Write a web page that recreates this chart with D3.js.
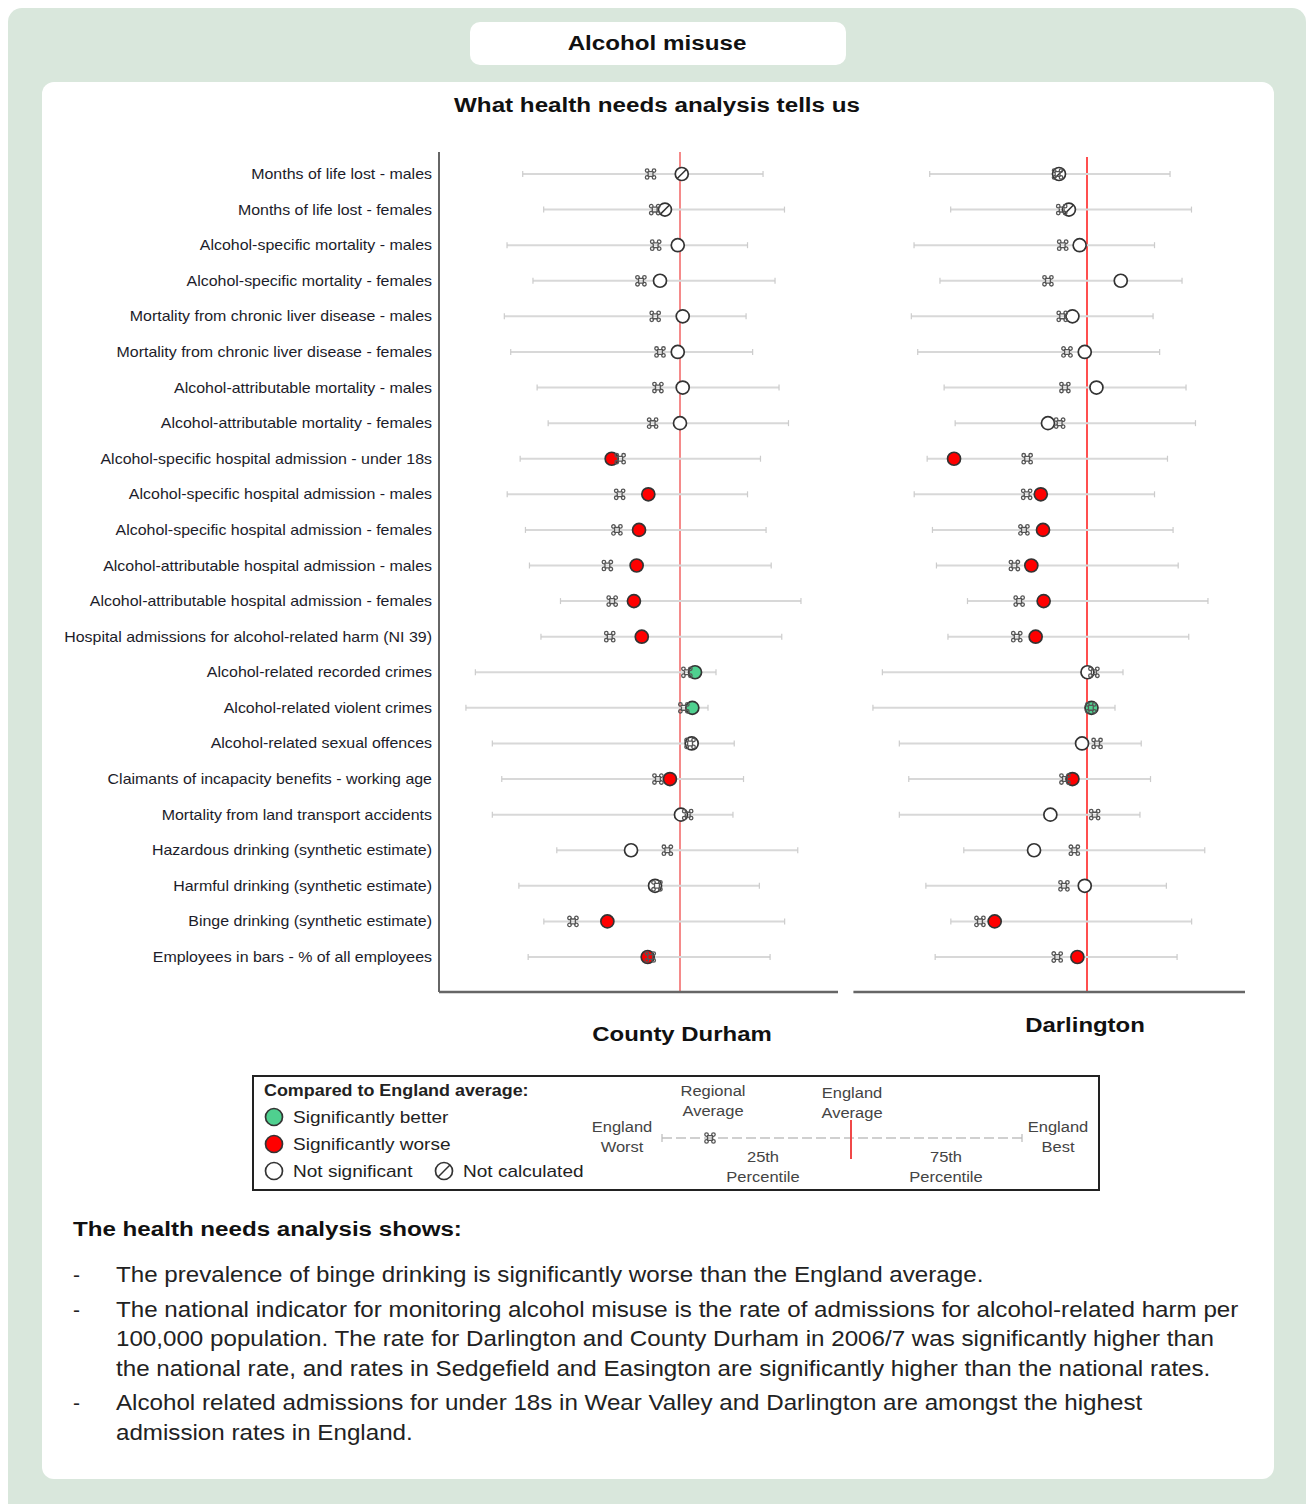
<!DOCTYPE html>
<html>
<head>
<meta charset="utf-8">
<script src="https://cdn.jsdelivr.net/npm/d3@7"></script>
<style>
  html, body { margin: 0; padding: 0; background: #ffffff; }
  svg { display: block; }
</style>
</head>
<body>
<svg id="chart" width="1314" height="1504"></svg>
<script>
// Indicators, top to bottom
const indicators = [
  "Months of life lost - males",
  "Months of life lost - females",
  "Alcohol-specific mortality - males",
  "Alcohol-specific mortality - females",
  "Mortality from chronic liver disease - males",
  "Mortality from chronic liver disease - females",
  "Alcohol-attributable mortality - males",
  "Alcohol-attributable mortality - females",
  "Alcohol-specific hospital admission - under 18s",
  "Alcohol-specific hospital admission - males",
  "Alcohol-specific hospital admission - females",
  "Alcohol-attributable hospital admission - males",
  "Alcohol-attributable hospital admission - females",
  "Hospital admissions for alcohol-related harm (NI 39)",
  "Alcohol-related recorded crimes",
  "Alcohol-related violent crimes",
  "Alcohol-related sexual offences",
  "Claimants of incapacity benefits - working age",
  "Mortality from land transport accidents",
  "Hazardous drinking (synthetic estimate)",
  "Harmful drinking (synthetic estimate)",
  "Binge drinking (synthetic estimate)",
  "Employees in bars - % of all employees"
];

// Standardised scores: England average = 0, worse to the left, better to the right
const englandWorst = [-98.3, -85.2, -108.1, -91.9, -109.8, -105.8, -89.3, -82.4, -99.9, -108.0, -96.6, -94.1,
  -74.7, -86.9, -127.9, -133.8, -117.3, -111.4, -117.3, -77.0, -100.7, -85.1, -94.9];
const englandBest = [51.9, 65.3, 42.2, 59.4, 41.3, 45.4, 61.9, 67.8, 50.3, 42.2, 53.8, 57.0,
  75.6, 63.6, 22.5, 17.5, 33.9, 39.7, 33.1, 73.6, 49.6, 65.4, 56.3];
const regionalAverage = [-18.4, -15.8, -15.2, -24.4, -15.5, -12.5, -13.8, -17.1, -37.4, -37.7, -39.4, -45.4,
  -42.4, -43.9, 4.3, 2.4, 6.3, -13.8, 4.8, -7.9, -14.4, -66.9, -18.6];

const countyDurhamValues = [1.1, -9.4, -1.4, -12.5, 1.7, -1.4, 1.7, 0.0, -42.7, -19.8, -25.6, -27.1,
  -28.8, -23.9, 9.4, 7.7, 7.3, -6.3, 0.6, -30.6, -15.6, -45.4, -20.2];
// b = significantly better, w = significantly worse, n = not significant, x = not calculated
const countyDurhamSig = ["x", "x", "n", "n", "n", "n", "n", "n", "w", "w", "w", "w",
  "w", "w", "b", "b", "n", "w", "n", "n", "n", "w", "w"];

const darlingtonValues = [-17.5, -11.3, -4.6, 21.1, -9.1, -1.4, 5.9, -24.4, -83.1, -28.9, -27.5, -34.8,
  -27.1, -32.1, 0.3, 2.8, -3.1, -9.1, -22.9, -33.1, -1.4, -57.7, -6.0];
const darlingtonSig = ["x", "x", "n", "n", "n", "n", "n", "n", "w", "w", "w", "w",
  "w", "w", "n", "b", "n", "w", "n", "n", "n", "w", "w"];

const areaNames = ["County Durham", "Darlington"];

const legendMarkers = ["Significantly better", "Significantly worse", "Not significant", "Not calculated"];

const summaryPoints = [
  ["The prevalence of binge drinking is significantly worse than the England average."],
  ["The national indicator for monitoring alcohol misuse is the rate of admissions for alcohol-related harm per",
   "100,000 population. The rate for Darlington and County Durham in 2006/7 was significantly higher than",
   "the national rate, and rates in Sedgefield and Easington are significantly higher than the national rates."],
  ["Alcohol related admissions for under 18s in Wear Valley and Darlington are amongst the highest",
   "admission rates in England."]
];

const FONT = "'Liberation Sans', Arial, sans-serif";
const fillFor = { b: "#4fd08f", w: "#ff0000", n: "#ffffff", x: "#ffffff" };

const svg = d3.select("#chart");

// Text with a slightly widened face (horizontal stretch sx)
function wideText(parent, x, y, str, o) {
  return parent.append("text")
    .attr("transform", `translate(${x},${y}) scale(${o.sx || 1},1)`)
    .attr("text-anchor", o.anchor || "start")
    .attr("font-family", FONT)
    .attr("font-weight", o.weight || "normal")
    .attr("font-size", o.size)
    .attr("fill", o.fill || "#222")
    .text(str);
}

// Page frame
svg.append("rect").attr("x", 8).attr("y", 8).attr("width", 1298).attr("height", 1510)
  .attr("rx", 14).attr("fill", "#d9e7dc");
svg.append("rect").attr("x", 470).attr("y", 22).attr("width", 376).attr("height", 43)
  .attr("rx", 10).attr("fill", "#ffffff");
wideText(svg, 657, 50, "Alcohol misuse", { anchor: "middle", weight: "bold", size: 20, sx: 1.21, fill: "#111" });
svg.append("rect").attr("x", 42).attr("y", 82).attr("width", 1232).attr("height", 1397)
  .attr("rx", 12).attr("fill", "#ffffff");
wideText(svg, 657, 112, "What health needs analysis tells us", { anchor: "middle", weight: "bold", size: 20, sx: 1.21, fill: "#111" });

// Rows
const y = d3.scalePoint().domain(indicators).range([174, 957]);
const plotTop = 152, plotBottom = 992;

const labelG = svg.append("g");
indicators.forEach(d => wideText(labelG, 432, y(d) + 5, d, { anchor: "end", size: 14, sx: 1.14, fill: "#1c1c2a" }));

// Regional-average glyph (looped square)
function regionalGlyph(g, cx, cy, s) {
  const h = s / 2, r = s * 0.22;
  const p = d3.path();
  p.rect(cx - h * 0.6, cy - h * 0.6, h * 1.2, h * 1.2);
  [[-1, -1], [1, -1], [-1, 1], [1, 1]].forEach(([dx, dy]) => {
    const ox = cx + dx * h * 0.6 + dx * r * 0.6, oy = cy + dy * h * 0.6 + dy * r * 0.6;
    p.moveTo(ox + r, oy);
    p.arc(ox, oy, r, 0, Math.PI * 2);
  });
  g.append("path").attr("d", p.toString()).attr("fill", "none")
    .attr("stroke", "#555").attr("stroke-width", 1.3);
}

function marker(g, cx, cy, sig, r) {
  g.append("circle").attr("cx", cx).attr("cy", cy).attr("r", r)
    .attr("fill", fillFor[sig]).attr("stroke", "#333").attr("stroke-width", 1.7);
  if (sig === "x") {
    g.append("line").attr("x1", cx - r * 0.7).attr("y1", cy + r * 0.7)
      .attr("x2", cx + r * 0.7).attr("y2", cy - r * 0.7)
      .attr("stroke", "#333").attr("stroke-width", 1.5);
  }
}

function drawPanel(range, values, sigs, opts) {
  const x = d3.scaleLinear().domain([-150, 100]).range(range);
  const g = svg.append("g");

  // England average reference line
  g.append("line").attr("x1", x(0)).attr("x2", x(0))
    .attr("y1", opts.lineTop).attr("y2", plotBottom)
    .attr("stroke", opts.lineColor).attr("stroke-width", 2);

  // England worst-to-best range for each indicator
  const rows = g.append("g").selectAll("g").data(indicators).join("g");
  rows.append("line")
    .attr("x1", (d, i) => x(englandWorst[i])).attr("x2", (d, i) => x(englandBest[i]))
    .attr("y1", d => y(d)).attr("y2", d => y(d))
    .attr("stroke", "#d8d8d8").attr("stroke-width", 2);
  rows.append("line")
    .attr("x1", (d, i) => x(englandWorst[i])).attr("x2", (d, i) => x(englandWorst[i]))
    .attr("y1", d => y(d) - 3).attr("y2", d => y(d) + 3)
    .attr("stroke", "#cccccc").attr("stroke-width", 1.2);
  rows.append("line")
    .attr("x1", (d, i) => x(englandBest[i])).attr("x2", (d, i) => x(englandBest[i]))
    .attr("y1", d => y(d) - 3).attr("y2", d => y(d) + 3)
    .attr("stroke", "#cccccc").attr("stroke-width", 1.2);

  // Area values
  indicators.forEach((d, i) => marker(g, x(values[i]), y(d), sigs[i], 6.5));
  // Regional averages
  indicators.forEach((d, i) => regionalGlyph(g, x(regionalAverage[i]), y(d), 8));

  // Axes
  if (opts.leftAxis) {
    g.append("line").attr("x1", range[0] - 1).attr("x2", range[0] - 1)
      .attr("y1", plotTop).attr("y2", plotBottom)
      .attr("stroke", "#666").attr("stroke-width", 2);
  }
  g.append("line").attr("x1", x(opts.baseStart)).attr("x2", range[1] - 2)
    .attr("y1", plotBottom).attr("y2", plotBottom)
    .attr("stroke", "#666").attr("stroke-width", 2.5);

  wideText(g, opts.titleX, opts.titleY, opts.title, { anchor: "middle", weight: "bold", size: 21, sx: 1.14, fill: "#111" });
}

drawPanel([440, 840], countyDurhamValues, countyDurhamSig,
  { lineTop: 152, lineColor: "#f58a8a", leftAxis: true, baseStart: -150.6,
    title: areaNames[0], titleX: 682, titleY: 1041 });
drawPanel([847, 1247], darlingtonValues, darlingtonSig,
  { lineTop: 157, lineColor: "#ff4f4f", leftAxis: false, baseStart: -146,
    title: areaNames[1], titleX: 1085, titleY: 1032 });

// Legend
const lg = svg.append("g");
lg.append("rect").attr("x", 253).attr("y", 1076).attr("width", 846).attr("height", 114)
  .attr("fill", "#fff").attr("stroke", "#222").attr("stroke-width", 2);
wideText(lg, 264, 1096, "Compared to England average:", { weight: "bold", size: 16, sx: 1.12 });
const legendSig = ["b", "w", "n", "x"];
const legendPos = [[274, 1117], [274, 1144], [274, 1171], [444, 1171]];
legendMarkers.forEach((t, i) => {
  const [lx, ly] = legendPos[i];
  marker(lg, lx, ly, legendSig[i], 8.5);
  wideText(lg, lx + 19, ly + 6, t, { size: 17, sx: 1.12 });
});

// Legend key spine
const keyY = 1138;
lg.append("line").attr("x1", 662).attr("x2", 1022).attr("y1", keyY).attr("y2", keyY)
  .attr("stroke", "#d0d0d0").attr("stroke-width", 2).attr("stroke-dasharray", "10,4");
[662, 1022].forEach(kx => lg.append("line").attr("x1", kx).attr("x2", kx)
  .attr("y1", keyY - 4).attr("y2", keyY + 4).attr("stroke", "#bbb").attr("stroke-width", 1.2));
regionalGlyph(lg, 710, keyY, 8);
lg.append("line").attr("x1", 851).attr("x2", 851).attr("y1", 1120).attr("y2", 1159)
  .attr("stroke", "#f04848").attr("stroke-width", 2);
const keyLabels = [
  { lines: ["Regional", "Average"], x: 713, y: 1096 },
  { lines: ["England", "Average"], x: 852, y: 1098 },
  { lines: ["England", "Worst"], x: 622, y: 1132 },
  { lines: ["England", "Best"], x: 1058, y: 1132 },
  { lines: ["25th", "Percentile"], x: 763, y: 1162 },
  { lines: ["75th", "Percentile"], x: 946, y: 1162 }
];
keyLabels.forEach(k => {
  k.lines.forEach((ln, j) => wideText(lg, k.x, k.y + j * 20, ln, { anchor: "middle", size: 15, sx: 1.1, fill: "#444" }));
});

// Summary text
wideText(svg, 73, 1236, "The health needs analysis shows:", { weight: "bold", size: 21, sx: 1.15, fill: "#111" });
let ty = 1282;
summaryPoints.forEach(pt => {
  wideText(svg, 73, ty, "-", { size: 21 });
  pt.forEach((ln, j) => wideText(svg, 116, ty + j * 29.5, ln, { size: 21.5, sx: 1.124 }));
  ty += pt.length * 29.5 + 5;
});
</script>
</body>
</html>
